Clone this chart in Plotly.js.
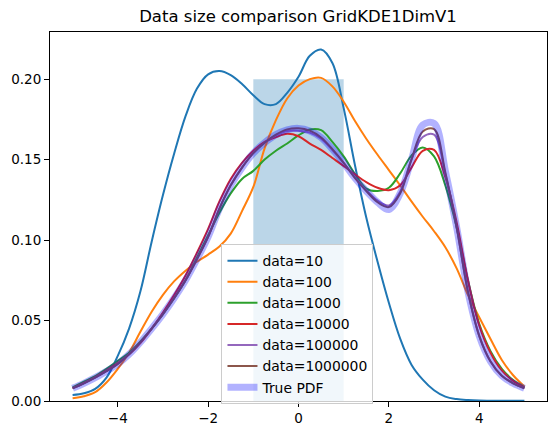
<!DOCTYPE html>
<html>
<head>
<meta charset="utf-8">
<script src="https://cdn.plot.ly/plotly-3.0.1.min.js"></script>
<style>html,body{margin:0;padding:0;background:#fff;}#chart{width:556px;height:435px;}</style>
</head>
<body>
<div id="chart"></div>
<script>
const xs = [-5,-4.75,-4.5,-4.25,-4,-3.75,-3.5,-3.25,-3,-2.75,-2.5,-2.25,-2,-1.75,-1.5,-1.25,-1,-0.75,-0.5,-0.25,0,0.25,0.5,0.75,1,1.25,1.5,1.75,2,2.25,2.5,2.75,3,3.25,3.5,3.75,4,4.25,4.5,4.75,5];

const data10 = [0.0037,0.0048,0.0075,0.0145,0.028,0.045,0.068,0.099,0.128,0.154,0.177,0.194,0.203,0.205,0.2025,0.197,0.190,0.1845,0.1845,0.1915,0.2015,0.2145,0.2184,0.210,0.182,0.1465,0.114,0.0865,0.061,0.0387,0.0226,0.0133,0.0067,0.0027,0.0012,0.0006,0.0003,0.0002,0.0001,0.0001,0.0001];
const data100 = [0.0017,0.003,0.0055,0.0115,0.020,0.030,0.043,0.0555,0.066,0.0745,0.081,0.0865,0.091,0.096,0.104,0.118,0.133,0.157,0.1745,0.188,0.196,0.200,0.2008,0.1955,0.186,0.174,0.163,0.153,0.1435,0.134,0.124,0.1145,0.1055,0.0955,0.0824,0.066,0.052,0.0385,0.0255,0.016,0.009];
const data1000 = [0.0085,0.012,0.0155,0.020,0.025,0.030,0.037,0.045,0.054,0.064,0.075,0.089,0.103,0.117,0.129,0.138,0.143,0.150,0.1555,0.160,0.165,0.1687,0.1683,0.161,0.152,0.141,0.132,0.1305,0.1325,0.1414,0.1525,0.1576,0.152,0.134,0.108,0.075,0.048,0.031,0.020,0.013,0.0085];
const data10000 = [0.008,0.0112,0.0148,0.019,0.0235,0.029,0.036,0.045,0.055,0.066,0.078,0.092,0.107,0.124,0.138,0.148,0.1555,0.161,0.164,0.166,0.1645,0.160,0.156,0.151,0.146,0.1408,0.136,0.1325,0.131,0.134,0.145,0.1555,0.156,0.139,0.111,0.075,0.047,0.030,0.019,0.0125,0.0083];
const data100000 = [0.0079,0.011,0.0145,0.0185,0.023,0.029,0.0365,0.045,0.054,0.064,0.075,0.088,0.102,0.1195,0.134,0.145,0.154,0.1605,0.165,0.1678,0.168,0.1668,0.163,0.156,0.148,0.139,0.131,0.1245,0.1215,0.130,0.150,0.164,0.1655,0.141,0.108,0.068,0.0405,0.0246,0.0157,0.011,0.0079];
const data1000000 = [0.0079,0.011,0.0145,0.0185,0.023,0.029,0.0365,0.045,0.054,0.064,0.075,0.088,0.102,0.1195,0.134,0.145,0.154,0.1605,0.1655,0.1688,0.1695,0.168,0.1638,0.1565,0.148,0.1385,0.1305,0.1235,0.1205,0.129,0.150,0.1675,0.169,0.142,0.108,0.068,0.0405,0.0246,0.0157,0.011,0.0079];
const truePdf = [0.0079,0.011,0.0145,0.0185,0.023,0.029,0.0365,0.045,0.054,0.064,0.075,0.088,0.102,0.1195,0.134,0.145,0.154,0.1605,0.1655,0.1685,0.1694,0.1678,0.1637,0.1565,0.148,0.1385,0.1305,0.1235,0.119,0.129,0.150,0.1715,0.1725,0.143,0.108,0.068,0.0405,0.0246,0.0157,0.011,0.0079];

const barX = [0];
const barWidth = [2];
const barHeight = [0.2];

const seriesNames = ["data=10","data=100","data=1000","data=10000","data=100000","data=1000000"];
const seriesValues = [data10,data100,data1000,data10000,data100000,data1000000];
const seriesColors = ["#1f77b4","#ff7f0e","#2ca02c","#d62728","#9467bd","#8c564b"];

const traces = [{
  type: "bar", x: barX, y: barHeight, width: barWidth,
  marker: {color: "rgba(31,119,180,0.3)", line: {width: 0}},
  showlegend: false, hoverinfo: "skip"
}];
seriesNames.forEach((n, i) => {
  traces.push({type: "scatter", mode: "lines", x: xs, y: seriesValues[i], name: n,
    line: {color: seriesColors[i], width: 2, shape: "spline", smoothing: 1}});
});
traces.push({type: "scatter", mode: "lines", x: xs, y: truePdf, name: "True PDF",
  line: {color: "rgba(0,0,255,0.3)", width: 7, shape: "spline", smoothing: 1}});

const font = {family: "DejaVu Sans", size: 13.5, color: "#000"};
const legendFont = {family: "DejaVu Sans", size: 13.9, color: "#000"};
const layout = {
  width: 556, height: 435,
  margin: {l: 50, r: 9, t: 32, b: 34},
  paper_bgcolor: "#fff", plot_bgcolor: "#fff",
  font: font,
  title: {text: "Data size comparison GridKDE1DimV1", font: {family: "DejaVu Sans", size: 16.5, color: "#000"}, x: 0.536, xanchor: "center", y: 0.963, yanchor: "middle"},
  xaxis: {range: [-5.5, 5.5], tickvals: [-4,-2,0,2,4], ticks: "outside", ticklen: 5, tickwidth: 1, tickcolor: "#000",
    showgrid: false, zeroline: false, showline: true, linecolor: "#000", linewidth: 1, mirror: true, tickfont: font},
  yaxis: {range: [0, 0.2293], tickvals: [0,0.05,0.10,0.15,0.20], tickformat: ".2f", ticks: "outside", ticklen: 5, tickwidth: 1, tickcolor: "#000",
    showgrid: false, zeroline: false, showline: true, linecolor: "#000", linewidth: 1, mirror: true, tickfont: font},
  legend: {x: 0.345, y: 0.425, xanchor: "left", yanchor: "top", bgcolor: "rgba(255,255,255,0.8)", bordercolor: "#cccccc", borderwidth: 1,
    font: legendFont, tracegroupgap: 0},
  showlegend: true
};
Plotly.newPlot("chart", traces, layout, {staticPlot: true, displayModeBar: false});
</script>
</body>
</html>
